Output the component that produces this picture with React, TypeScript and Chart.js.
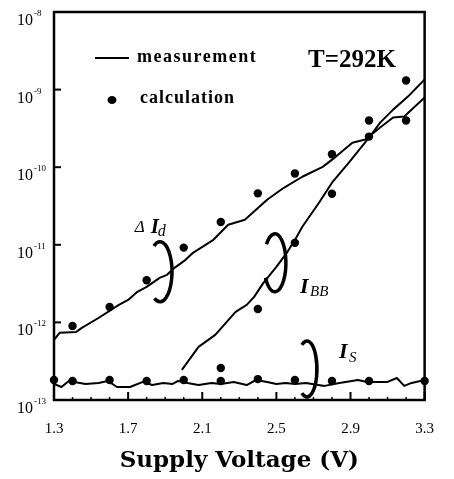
import React, { useEffect, useRef } from 'react';
import { Chart, registerables } from 'chart.js';

Chart.register(...registerables);

// ---------- data ----------
const xTickLabels = ['1.3', '1.7', '2.1', '2.5', '2.9', '3.3'];
const yDecades = [-13, -12, -11, -10, -9, -8];

const deltaIdMeasV = [1.3, 1.33, 1.42, 1.45, 1.54, 1.65, 1.7, 1.75, 1.8, 1.87, 1.91, 1.95, 2.01, 2.05, 2.16, 2.24, 2.33, 2.45, 2.54, 2.64, 2.75, 2.82, 2.91, 2.98, 3.06, 3.13, 3.19, 3.3];
const deltaIdMeas = [5.94e-13, 7.33e-13, 7.54e-13, 8.49e-13, 1.14e-12, 1.68e-12, 1.95e-12, 2.48e-12, 2.87e-12, 3.75e-12, 4.1e-12, 5.05e-12, 6.4e-12, 7.88e-12, 1.16e-11, 1.81e-11, 2.1e-11, 3.81e-11, 5.43e-11, 7.53e-11, 1.01e-10, 1.36e-10, 2.07e-10, 2.27e-10, 3.24e-10, 4.36e-10, 4.49e-10, 7.89e-10];

const ibbMeasV = [1.99, 2.08, 2.17, 2.28, 2.34, 2.38, 2.43, 2.5, 2.56, 2.61, 2.64, 2.73, 2.8, 2.89, 3.0, 3.06, 3.13, 3.21, 3.3];
const ibbMeas = [2.44e-13, 4.83e-13, 6.9e-13, 1.37e-12, 1.68e-12, 2.13e-12, 3.23e-12, 5.2e-12, 8.12e-12, 1.27e-11, 1.71e-11, 3.48e-11, 6.31e-11, 1.14e-10, 2.4e-10, 3.75e-10, 5.52e-10, 8.13e-10, 1.35e-9];

const isMeasV = [1.3, 1.34, 1.38, 1.47, 1.54, 1.59, 1.64, 1.71, 1.78, 1.83, 1.89, 1.94, 1.97, 2.02, 2.08, 2.15, 2.2, 2.27, 2.34, 2.39, 2.45, 2.5, 2.55, 2.6, 2.66, 2.76, 2.84, 2.94, 2.99, 3.1, 3.15, 3.19, 3.23, 3.3];
const isMeas = [1.61e-13, 1.47e-13, 1.76e-13, 1.61e-13, 1.66e-13, 1.76e-13, 1.47e-13, 1.47e-13, 1.71e-13, 1.56e-13, 1.66e-13, 1.61e-13, 1.76e-13, 1.66e-13, 1.56e-13, 1.66e-13, 1.61e-13, 1.71e-13, 1.56e-13, 1.81e-13, 1.71e-13, 1.61e-13, 1.66e-13, 1.61e-13, 1.66e-13, 1.52e-13, 1.66e-13, 1.81e-13, 1.71e-13, 1.71e-13, 1.92e-13, 1.52e-13, 1.66e-13, 1.81e-13];

const deltaIdCalcV = [1.4, 1.6, 1.8, 2.0, 2.2, 2.4, 2.6, 2.8, 3.0, 3.2];
const deltaIdCalc = [9.0e-13, 1.58e-12, 3.5e-12, 9.2e-12, 1.97e-11, 4.6e-11, 8.3e-11, 1.47e-10, 4.0e-10, 4.0e-10];

const ibbCalcV = [2.2, 2.4, 2.6, 2.8, 3.0, 3.2];
const ibbCalc = [2.59e-13, 1.49e-12, 1.06e-11, 4.55e-11, 2.48e-10, 1.31e-9];

const isCalcV = [1.3, 1.4, 1.6, 1.8, 2.0, 2.2, 2.4, 2.6, 2.8, 3.0, 3.3];
const isCalc = [1.81e-13, 1.76e-13, 1.81e-13, 1.76e-13, 1.81e-13, 1.76e-13, 1.86e-13, 1.81e-13, 1.76e-13, 1.76e-13, 1.76e-13];

// annotation anchors (data coordinates)
const loopAnchorsV = [1.872, 2.492, 2.665];
const loopAnchorsLog = [-11.348, -11.232, -12.6];
const labelAnchorsV = [1.736, 2.628, 2.838];
const labelAnchorsLog = [-10.832, -11.619, -12.458];

const legendTexts = ['measurement', 'calculation'];
const tempText = 'T=292K';
const xTitle = 'Supply Voltage (V)';

const zip = (xs: number[], ys: number[]) => xs.map((x, i) => ({ x, y: ys[i] }));

const SERIF = "'Liberation Serif', 'Times New Roman', serif";

const decorPlugin = {
  id: 'decor',
  beforeDraw(chart: any) {
    const { ctx, width, height } = chart;
    ctx.save();
    ctx.fillStyle = '#fff';
    ctx.fillRect(0, 0, width, height);
    ctx.restore();
  },
  afterDraw(chart: any) {
    const { ctx, chartArea } = chart;
    const { left, right, top, bottom } = chartArea;
    const xs = chart.scales.x;
    const ys = chart.scales.y;
    ctx.save();
    ctx.strokeStyle = '#000';
    ctx.fillStyle = '#000';

    // frame
    ctx.lineWidth = 2.5;
    ctx.strokeRect(left, top, right - left, bottom - top);

    // x ticks (inward)
    xs.ticks.forEach((t: any) => {
      const px = xs.getPixelForValue(t.value);
      const major = t.label && String(t.label).length > 0;
      ctx.lineWidth = major ? 2 : 1.5;
      ctx.beginPath();
      ctx.moveTo(px, bottom);
      ctx.lineTo(px, bottom - (major ? 8 : 3));
      ctx.stroke();
    });

    // y ticks + labels
    ys.ticks.forEach((t: any) => {
      const py = ys.getPixelForValue(t.value);
      const e = Math.round(Math.log10(t.value));
      ctx.lineWidth = 2;
      ctx.beginPath();
      ctx.moveTo(left, py);
      ctx.lineTo(left + 7, py);
      ctx.stroke();
      ctx.font = `16px ${SERIF}`;
      ctx.textAlign = 'right';
      ctx.textBaseline = 'alphabetic';
      ctx.fillText('10', 33, py + 13);
      ctx.font = `9px ${SERIF}`;
      ctx.textAlign = 'left';
      ctx.fillText(String(e), 34, py + 4);
    });

    // legend
    ctx.lineWidth = 2;
    ctx.beginPath();
    ctx.moveTo(95, 58);
    ctx.lineTo(129, 58);
    ctx.stroke();
    ctx.font = `bold 18px ${SERIF}`;
    (ctx as any).letterSpacing = '1.5px';
    ctx.textAlign = 'left';
    ctx.fillText(legendTexts[0], 137, 62);
    (ctx as any).letterSpacing = '1px';
    ctx.fillText(legendTexts[1], 140, 103);
    (ctx as any).letterSpacing = '0px';
    ctx.beginPath();
    ctx.ellipse(112, 100, 4.5, 4, 0, 0, Math.PI * 2);
    ctx.fill();

    // temperature
    ctx.font = `bold 25px ${SERIF}`;
    ctx.fillText(tempText, 308, 67);

    // loops
    ctx.lineWidth = 3.5;
    const loopAngles = [
      [-2.1, 2.05],
      [-2.45, 2.6],
      [-2.1, 2.1],
    ];
    const loopR = [
      [12, 30],
      [11, 29],
      [10, 28],
    ];
    loopAnchorsV.forEach((v, i) => {
      const cx = xs.getPixelForValue(v);
      const cy = ys.getPixelForValue(Math.pow(10, loopAnchorsLog[i]));
      ctx.beginPath();
      ctx.ellipse(cx, cy, loopR[i][0], loopR[i][1], 0, loopAngles[i][0], loopAngles[i][1]);
      ctx.stroke();
    });

    // labels
    const lp = labelAnchorsV.map((v, i) => [
      xs.getPixelForValue(v),
      ys.getPixelForValue(Math.pow(10, labelAnchorsLog[i])),
    ]);
    // ΔI_d
    ctx.font = `italic 17px ${SERIF}`;
    ctx.fillText('Δ', lp[0][0], lp[0][1]);
    ctx.font = `italic bold 21px ${SERIF}`;
    ctx.fillText('I', lp[0][0] + 16, lp[0][1] + 1);
    ctx.font = `italic 16px ${SERIF}`;
    ctx.fillText('d', lp[0][0] + 23, lp[0][1] + 4);
    // I_BB
    ctx.font = `italic bold 22px ${SERIF}`;
    ctx.fillText('I', lp[1][0], lp[1][1]);
    ctx.font = `italic 15px ${SERIF}`;
    ctx.fillText('BB', lp[1][0] + 10, lp[1][1] + 3);
    // I_S
    ctx.font = `italic bold 22px ${SERIF}`;
    ctx.fillText('I', lp[2][0], lp[2][1]);
    ctx.font = `italic 15px ${SERIF}`;
    ctx.fillText('S', lp[2][0] + 10, lp[2][1] + 4);

    ctx.restore();
  },
};

export default function App() {
  const ref = useRef<HTMLCanvasElement | null>(null);
  useEffect(() => {
    if (!ref.current) return;
    const lineDs = (label: string, xsArr: number[], ysArr: number[]) => ({
      label,
      data: zip(xsArr, ysArr),
      showLine: true,
      borderColor: '#000',
      borderWidth: 2,
      pointRadius: 0,
      borderJoinStyle: 'round',
      tension: 0,
    });
    const dotDs = (label: string, xsArr: number[], ysArr: number[]) => ({
      label,
      data: zip(xsArr, ysArr),
      showLine: false,
      pointRadius: 4.2,
      pointBackgroundColor: '#000',
      pointBorderWidth: 0,
      clip: false,
    });
    const chart = new Chart(ref.current, {
      type: 'scatter',
      data: {
        datasets: [
          lineDs('ΔId measurement', deltaIdMeasV, deltaIdMeas),
          lineDs('IBB measurement', ibbMeasV, ibbMeas),
          lineDs('IS measurement', isMeasV, isMeas),
          dotDs('ΔId calculation', deltaIdCalcV, deltaIdCalc),
          dotDs('IBB calculation', ibbCalcV, ibbCalc),
          dotDs('IS calculation', isCalcV, isCalc),
        ] as any,
      },
      options: {
        responsive: false,
        animation: false,
        layout: { padding: { top: 12, right: 19, left: 0, bottom: 0 } },
        plugins: { legend: { display: false }, tooltip: { enabled: false } },
        scales: {
          x: {
            type: 'linear',
            min: 1.3,
            max: 3.3,
            grid: { display: false, drawTicks: false },
            border: { display: false },
            ticks: {
              stepSize: 0.1,
              autoSkip: false,
              maxRotation: 0,
              padding: 20,
              color: '#000',
              font: { family: SERIF, size: 15 },
              callback: (v: any) => {
                const lab = xTickLabels.find((l) => Math.abs(parseFloat(l) - Number(v)) < 1e-6);
                return lab ?? '';
              },
            },
            title: {
              display: true,
              text: xTitle,
              color: '#000',
              font: { family: "'DejaVu Serif', serif", size: 23, weight: 'bold' },
              padding: { top: 0, bottom: 4 },
            },
            afterFit: (s: any) => {
              s.height = 79;
            },
          },
          y: {
            type: 'logarithmic',
            min: 1e-13,
            max: 1e-8,
            grid: { display: false, drawTicks: false },
            border: { display: false },
            ticks: { display: false },
            afterBuildTicks: (s: any) => {
              s.ticks = yDecades.map((e) => ({ value: Math.pow(10, e) }));
            },
            afterFit: (s: any) => {
              s.width = 54;
            },
          },
        },
      } as any,
      plugins: [decorPlugin],
    });
    return () => chart.destroy();
  }, []);
  return (
    <div style={{ position: 'absolute', left: 0, top: 0, width: 454, height: 479, background: '#fff' }}>
      <canvas ref={ref} width={454} height={479} style={{ display: 'block' }} />
    </div>
  );
}
